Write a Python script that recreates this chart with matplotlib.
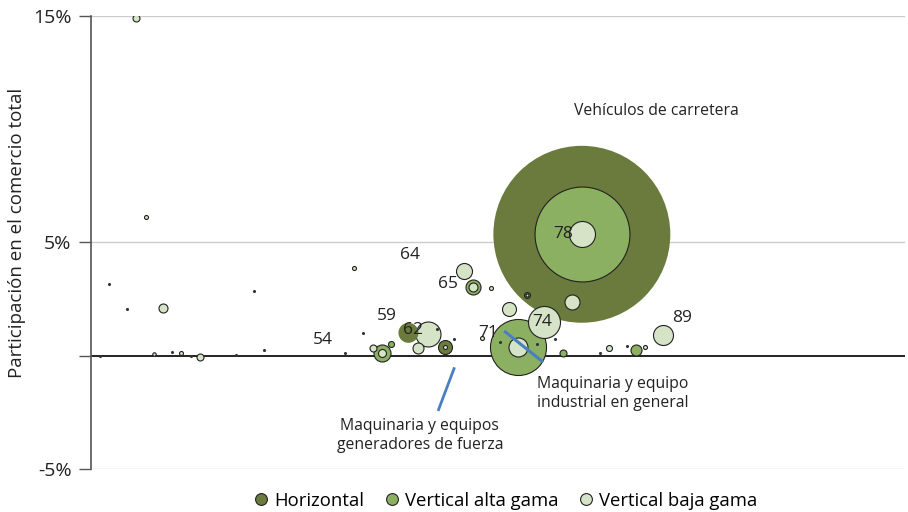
import matplotlib
matplotlib.use("Agg")
import matplotlib.pyplot as plt
from matplotlib.lines import Line2D

plt.rcParams['font.family'] = ['Open Sans', 'DejaVu Sans']

# colours
c_hor = '#6a7b3d'
c_alta = '#8cb062'
c_baja = '#d5e3c6'
c_line = '#4a7fc1'

# x: product position (index scale 0-100), y: share in total trade (%), v: trade value (area units)
hor_x = [60.3, 39.0, 43.5, 53.6]
hor_y = [5.36, 1.01, 0.39, 2.68]
hor_v = [313.0, 4.0, 1.96, 0.36]

alta_x = [60.3, 52.5, 35.7, 36.8, 46.9, 58.0, 66.9]
alta_y = [5.36, 0.39, 0.12, 0.52, 3.04, 0.10, 0.26]
alta_v = [90.0, 31.4, 2.9, 0.36, 2.25, 0.49, 1.21]

baja_x = [5.5, 6.7, 8.9, 7.8, 11.1, 13.4, 32.3, 45.8, 34.6, 40.2, 41.4, 49.1,
          51.3, 55.6, 48.0, 59.1, 63.6, 68.1, 70.3,
          35.7, 46.9, 52.4, 60.3, 43.5, 53.6]
baja_y = [14.89, 6.13, 2.12, 0.07, 0.11, -0.05, 3.86, 3.73, 0.36, 0.36, 0.94, 2.97,
          2.04, 1.50, 0.76, 2.38, 0.33, 0.39, 0.91,
          0.12, 3.04, 0.39, 5.38, 0.39, 2.68]
baja_v = [0.49, 0.16, 0.81, 0.12, 0.16, 0.49, 0.16, 2.56, 0.49, 1.21, 6.25, 0.16,
          1.96, 10.24, 0.16, 2.25, 0.36, 0.16, 4.0,
          0.64, 0.81, 3.61, 6.76, 0.16, 0.09]

# very small products (dots)
dot_x = [2.2, 4.4, 20.0, 1.1, 10.0, 12.3, 17.8, 21.2, 31.2, 33.4, 42.5, 44.6,
         50.2, 54.8, 57.0, 62.5, 65.9]
dot_y = [3.16, 2.06, 2.85, -0.01, 0.17, 0.0, 0.01, 0.24, 0.12, 1.01, 1.17, 0.73,
         0.61, 0.5, 0.72, 0.14, 0.43]

codes = ['54', '59', '62', '64', '65', '71', '74', '78', '89']
code_x = [28.5, 36.4, 39.6, 39.2, 43.9, 48.8, 55.4, 58.0, 72.6]
code_y = [0.69, 1.75, 1.13, 4.45, 3.16, 1.0, 1.48, 5.38, 1.66]

# value (area units) -> marker area in pt^2
k = (0.72 * 10) ** 2

fig = plt.figure(figsize=(9.08, 5.12), dpi=100)
ax = fig.add_axes([0.1002, 0.084, 0.8965, 0.885])

for yv in [15, 5, -5]:
    ax.axhline(yv, color='#cccccc', lw=1.0, zorder=0)

# draw all bubbles, big ones first
pts = []
for x, y, v in zip(hor_x, hor_y, hor_v):
    pts.append((v, x, y, c_hor))
for x, y, v in zip(alta_x, alta_y, alta_v):
    pts.append((v, x, y, c_alta))
for x, y, v in zip(baja_x, baja_y, baja_v):
    pts.append((v, x, y, c_baja))
pts.sort(key=lambda p: -p[0])
for i, (v, x, y, c) in enumerate(pts):
    edge = 'none' if (c == c_hor and v > 3) else '#222222'
    ax.scatter([x], [y], s=v * k, color=c, edgecolors=edge, linewidths=0.8,
               zorder=2 + i * 0.01)

ax.scatter(dot_x, dot_y, s=1.5, color='#333333', zorder=3)

ax.axhline(0, color='#111111', lw=1.3, zorder=1.5)

for t, x, y in zip(codes, code_x, code_y):
    ax.text(x, y, t, fontsize=12.5, color='#222222', ha='center', va='center', zorder=5)

ax.text(69.4, 10.78, 'Vehículos de carretera', fontsize=11.3, color='#222222',
        ha='center', va='center')
ax.text(54.8, -1.66, 'Maquinaria y equipo\nindustrial en general', fontsize=11.3,
        color='#222222', ha='left', va='center', linespacing=1.2)
ax.text(40.4, -3.52, 'Maquinaria y equipos\ngeneradores de fuerza', fontsize=11.3,
        color='#222222', ha='center', va='center', linespacing=1.2)
ax.plot([44.6, 42.7], [-0.57, -2.38], color=c_line, lw=2, zorder=6)
ax.plot([50.9, 55.4], [1.05, -0.24], color=c_line, lw=2.2, zorder=6)

ax.set_xlim(0, 100)
ax.set_ylim(-5, 15)
ax.set_xticks([])
ax.set_yticks([-5, 0, 5, 15])
ax.set_yticklabels(['-5%', '', '5%', '15%'], fontsize=14, color='#222222')
ax.tick_params(axis='y', length=9, width=1, color='#555555', pad=5)
for s in ['top', 'right', 'bottom']:
    ax.spines[s].set_visible(False)
ax.spines['left'].set_color('#555555')
ax.spines['left'].set_linewidth(1.2)
ax.set_ylabel('Participación en el comercio total', fontsize=13.5, color='#222222')
ax.yaxis.set_label_coords(-0.080, 0.52)

handles = [
    Line2D([], [], marker='o', ls='', markersize=8.5, markerfacecolor=c_hor, markeredgecolor='#222222', markeredgewidth=0.8),
    Line2D([], [], marker='o', ls='', markersize=8.5, markerfacecolor=c_alta, markeredgecolor='#222222', markeredgewidth=0.8),
    Line2D([], [], marker='o', ls='', markersize=8.5, markerfacecolor=c_baja, markeredgecolor='#222222', markeredgewidth=0.8),
]
fig.legend(handles, ['Horizontal', 'Vertical alta gama', 'Vertical baja gama'],
           loc='center', bbox_to_anchor=(0.556, 0.022), ncol=3, frameon=False,
           fontsize=13.3, handletextpad=0.2, columnspacing=1.0, handlelength=1.0)

fig.savefig('out.png', dpi=100)
